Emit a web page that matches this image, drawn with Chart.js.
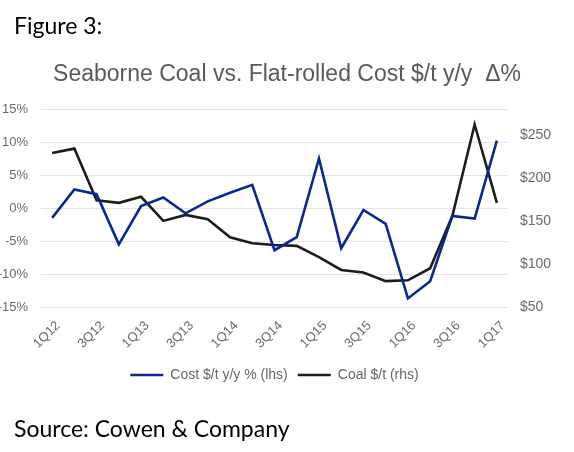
<!DOCTYPE html>
<html>
<head>
<meta charset="utf-8">
<script src="https://cdn.jsdelivr.net/npm/chart.js@4.4.1/dist/chart.umd.min.js"></script>
<style>
  html, body { margin: 0; padding: 0; background: #ffffff; }
  #wrap { position: relative; width: 574px; height: 452px; overflow: hidden; }
  #c { position: absolute; left: 0; top: 0; }
  .note { position: absolute; left: 14px; font-family: Lato, "Open Sans", sans-serif; font-size: 23px; line-height: 24px; color: #000; white-space: nowrap; }
</style>
</head>
<body>
<div id="wrap">
  <canvas id="c" width="574" height="452"></canvas>
  <div class="note" id="fig" style="top:13px;">Figure 3:</div>
  <div class="note" id="src" style="top:416px;">Source: Cowen &amp; Company</div>
</div>
<script>
const quarters = ["1Q12","2Q12","3Q12","4Q12","1Q13","2Q13","3Q13","4Q13","1Q14","2Q14","3Q14","4Q14","1Q15","2Q15","3Q15","4Q15","1Q16","2Q16","3Q16","4Q16","1Q17"];
const costYoY = [-1.5, 2.8, 2.1, -5.5, 0.3, 1.6, -0.8, 1.0, 2.3, 3.5, -6.4, -4.4, 7.5, -6.1, -0.3, -2.4, -13.7, -11.1, -1.2, -1.6, 10.2];
const coalPrice = [229, 234, 174, 171, 178, 150, 157, 152, 131, 124, 122, 121, 108, 93, 90, 80, 81, 95, 156, 262, 171];
const leftTicks = [-15, -10, -5, 0, 5, 10, 15];
const rightTicks = [50, 100, 150, 200, 250];
const titleText = "Seaborne Coal vs. Flat-rolled Cost $/t y/y  \u0394%";
const seriesNames = ["Cost $/t y/y % (lhs)", "Coal $/t (rhs)"];

const tickColor = "#6b6b6b";
const ctx = document.getElementById("c").getContext("2d");

new Chart(ctx, {
  type: "line",
  data: {
    labels: quarters,
    datasets: [
      { label: seriesNames[0], data: costYoY, yAxisID: "yL", borderColor: "#0a2890", backgroundColor: "#0a2890",
        borderWidth: 2.6, pointRadius: 0, tension: 0 },
      { label: seriesNames[1], data: coalPrice, yAxisID: "yR", borderColor: "#1c1c1c", backgroundColor: "#1c1c1c",
        borderWidth: 2.6, pointRadius: 0, tension: 0 }
    ]
  },
  options: {
    responsive: false,
    animation: false,
    devicePixelRatio: 1,
    layout: { padding: { top: 0, bottom: 60, left: 0, right: 0 } },
    plugins: {
      title: {
        display: true, text: titleText, color: "#595959",
        font: { family: "'Liberation Sans', Arial, sans-serif", size: 23, weight: "normal", lineHeight: 1.2 },
        padding: { top: 61.2, bottom: 20.2 }
      },
      legend: {
        position: "bottom", fullSize: false,
        labels: {
          usePointStyle: true, pointStyle: "line", pointStyleWidth: 33,
          color: "#666666", padding: 10,
          font: { family: "'Liberation Sans', Arial, sans-serif", size: 14 }
        }
      },
      tooltip: { enabled: false }
    },
    scales: {
      x: {
        offset: true,
        grid: { display: false, drawTicks: false },
        border: { display: false },
        ticks: {
          autoSkip: false, minRotation: 45, maxRotation: 45, padding: 11, labelOffset: 6,
          color: tickColor, font: { family: "'Liberation Sans', Arial, sans-serif", size: 13 },
          callback: function(v, i) { return i % 2 === 0 ? this.getLabelForValue(v) : ""; }
        },
        afterFit: function(s) { s.height = 51; }
      },
      yL: {
        position: "left", min: -15, max: 15,
        grid: { color: "#e4e4e4", lineWidth: 1, drawTicks: false },
        border: { display: false },
        afterBuildTicks: function(s) { s.ticks = leftTicks.map(v => ({ value: v })); },
        ticks: {
          padding: 13, color: tickColor, font: { family: "'Liberation Sans', Arial, sans-serif", size: 13 },
          callback: v => v + "%"
        },
        afterFit: function(s) { s.width = 41; }
      },
      yR: {
        position: "right", min: 50, max: 280,
        grid: { display: false, drawTicks: false },
        border: { display: false },
        afterBuildTicks: function(s) { s.ticks = rightTicks.map(v => ({ value: v })); },
        ticks: {
          padding: 12, color: tickColor, font: { family: "'Liberation Sans', Arial, sans-serif", size: 14 },
          callback: v => "$" + v
        },
        afterFit: function(s) { s.width = 66; }
      }
    }
  }
});
</script>
</body>
</html>
